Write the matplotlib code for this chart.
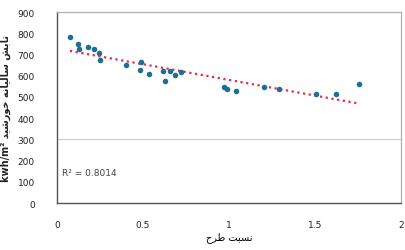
import numpy as np
import matplotlib
matplotlib.use("Agg")
import matplotlib.pyplot as plt

# Data
ratio = [0.075, 0.12, 0.13, 0.178, 0.217, 0.244, 0.249, 0.40, 0.487, 0.485,
         0.535, 0.617, 0.628, 0.659, 0.684, 0.719, 0.971, 0.99, 1.038,
         1.203, 1.29, 1.506, 1.62, 1.753]
radiation = [784, 750, 727, 737, 727, 706, 676, 652, 664, 628,
             606, 620, 577, 623, 605, 617, 547, 539, 530,
             548, 536, 512, 514, 561]
xticks = [0, 0.5, 1, 1.5, 2]
xticklabels = ["0", "0.5", "1", "1.5", "2"]
yticks = [0, 100, 200, 300, 400, 500, 600, 700, 800, 900]
r2_text = "R² = 0.8014"
xlabel = "ﺡﺮﻃ ﺖﺒﺴﻧ"  # نسبت طرح (visual order, shaped)
ylabel = "kwh/m² ﺪﻴﺷﺭﻮﺧ ﻪﻧﺎﻴﻟﺎﺳ ﺶﺑﺎﺗ"  # تابش سالیانه خورشید kwh/m²

fig = plt.figure(figsize=(4.05, 2.51), dpi=100)
ax = fig.add_axes([57/405, 1-204/251, (401-57)/405, (204-13)/251])

x = np.array(ratio)
y = np.array(radiation)
ax.scatter(x, y, s=16, marker="o", color="#1d6f98", zorder=3, linewidths=0)

coef = np.polyfit(x, y, 1)
xs = np.linspace(x.min(), x.max(), 50)
ax.plot(xs, np.polyval(coef, xs), linestyle=(0, (1, 1.6)), color="#e8294f",
        linewidth=1.6, zorder=2)

ax.set_xlim(0, 2)
ax.set_ylim(0, 900)
ax.set_xticks(xticks)
ax.set_xticklabels(xticklabels)
ax.set_yticks(yticks)
ax.tick_params(length=0, labelsize=6.5, colors="#222222")
ax.tick_params(axis="x", pad=12)
ax.tick_params(axis="y", pad=16)
ax.axhline(300, color="#cfcfcf", linewidth=0.8, zorder=1)

for side in ["top", "right"]:
    ax.spines[side].set_color("#b0b0b0")
    ax.spines[side].set_linewidth(0.9)
for side in ["left", "bottom"]:
    ax.spines[side].set_color("#555555")
    ax.spines[side].set_linewidth(1.0)

ax.text(0.03, 146, r2_text, fontsize=6.5, color="#444444", va="center", ha="left")

ax.set_xlabel(xlabel, fontsize=7, family="DejaVu Sans", labelpad=2)
ax.set_ylabel(ylabel, fontsize=7, family="DejaVu Sans", labelpad=5,
              fontweight="semibold", color="#222222")

fig.savefig("out.png", dpi=100)
